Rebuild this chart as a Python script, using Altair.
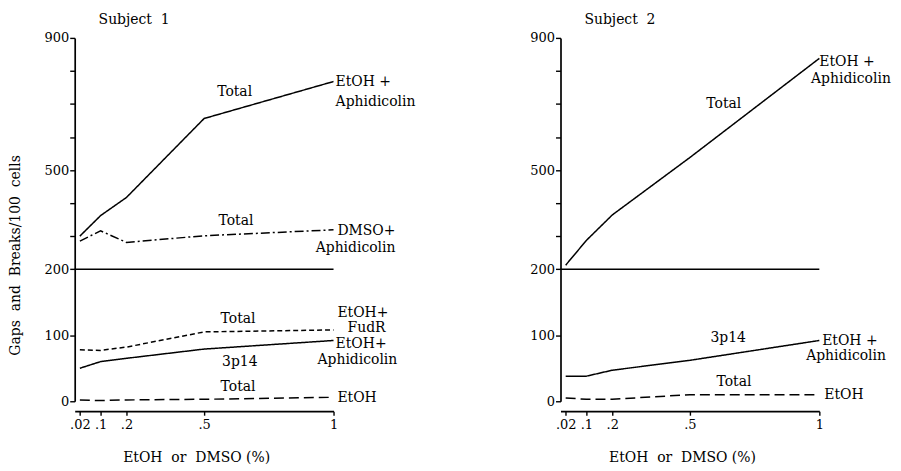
import altair as alt
import pandas as pd

# ---------------- data ----------------
x_levels = [0.02, 0.1, 0.2, 0.5, 1.0]
x_tick_labels = [".02", ".1", ".2", ".5", "1"]

# Subject 1
s1_etoh_aph_total = [300, 362, 417, 656, 768]
s1_dmso_aph_total = [285, 316, 281, 301, 319]
s1_etoh_fudr_total = [78, 77, 82, 105, 108]
s1_etoh_aph_3p14 = [50, 60, 65, 79, 92]
s1_etoh_total = [2, 1, 2, 3, 6]

# Subject 2
s2_etoh_aph_total = [212, 287, 364, 538, 838]
s2_etoh_aph_3p14 = [38, 38, 47, 62, 92]
s2_etoh_total = [5, 3, 3, 10, 10]

break_value = 200
y_tick_values = [0, 100, 200, 300, 400, 500, 600, 700, 800, 900]
y_label_values = [0, 100, 200, 500, 900]

series_names = ["EtOH+Aph Total", "DMSO+Aph Total", "EtOH+FudR Total", "EtOH+Aph 3p14", "EtOH Total"]
series_dash = [[1, 0], [9, 3, 2, 3], [5, 3], [1, 0], [10, 5]]

subject1 = {
    "EtOH+Aph Total": s1_etoh_aph_total,
    "DMSO+Aph Total": s1_dmso_aph_total,
    "EtOH+FudR Total": s1_etoh_fudr_total,
    "EtOH+Aph 3p14": s1_etoh_aph_3p14,
    "EtOH Total": s1_etoh_total,
}
subject2 = {
    "EtOH+Aph Total": s2_etoh_aph_total,
    "EtOH+Aph 3p14": s2_etoh_aph_3p14,
    "EtOH Total": s2_etoh_total,
}

# annotation texts (text, x, value, align)
ann1 = [
    ("Total", 0.618, 735, "center"),
    ("EtOH +", 1.008, 765, "left"),
    ("Aphidicolin", 1.008, 707, "left"),
    ("Total", 0.623, 345, "center"),
    ("DMSO+", 1.015, 316, "left"),
    ("Aphidicolin", 0.931, 265, "left"),
    ("Total", 0.631, 124, "center"),
    ("EtOH+", 1.015, 133, "left"),
    ("FudR", 1.054, 111, "left"),
    ("EtOH+", 1.008, 87, "left"),
    ("Aphidicolin", 0.938, 63, "left"),
    ("3p14", 0.638, 60, "center"),
    ("Total", 0.631, 21, "center"),
    ("EtOH", 1.015, 5, "left"),
]
ann2 = [
    ("Total", 0.631, 699, "center"),
    ("EtOH +", 1.0, 828, "left"),
    ("Aphidicolin", 0.968, 777, "left"),
    ("3p14", 0.648, 96, "center"),
    ("EtOH +", 1.011, 91, "left"),
    ("Aphidicolin", 0.949, 68, "left"),
    ("Total", 0.670, 29, "center"),
    ("EtOH", 1.019, 10, "left"),
]

# ---------------- helpers ----------------
FONT = "DejaVu Serif"
BREAK_EXPR = f"datum.v <= {break_value} ? datum.v : {break_value} + (datum.v - {break_value}) / 2"


def disp(v):
    return v if v <= break_value else break_value + (v - break_value) / 2


Y_TOP = disp(max(y_tick_values))
tick_disp = [disp(v) for v in y_tick_values]
label_disp = [disp(v) for v in y_label_values]
y_label_expr = (
    "indexof(" + str(label_disp) + ", datum.value) >= 0 ? "
    f"format(datum.value <= {break_value} ? datum.value : 2 * datum.value - {break_value}, 'd') : ''"
)

x_label_expr = ""
for val, lab in zip(x_levels, x_tick_labels):
    x_label_expr += f"round(datum.value * 100) == {round(val * 100)} ? '{lab}' : "
x_label_expr += "''"


def make_df(d):
    rows = []
    for name, vals in d.items():
        for xv, v in zip(x_levels, vals):
            rows.append({"series": name, "x": xv, "v": v})
    return pd.DataFrame(rows)


def panel(sub, ann, title, ytitle):
    df = make_df(sub)
    ann_df = pd.DataFrame(ann, columns=["text", "x", "v", "al"])
    rule_df = pd.DataFrame({"x": [0.0], "x1": [1.0], "v": [break_value]})

    xaxis = alt.Axis(
        values=x_levels, labelExpr=x_label_expr, offset=10, tickSize=4, labelPadding=3,
        labelFlush=False, labelOverlap=False, grid=False,
        title="EtOH\u00a0 or\u00a0 DMSO (%)", titleX=122, titleY=47, titleBaseline="middle",
    )
    yargs = dict(
        values=tick_disp, labelExpr=y_label_expr, tickSize=5, labelPadding=1,
        labelOverlap=False, labelFlush=False, grid=False,
    )
    if ytitle:
        yargs.update(title="Gaps\u00a0 and\u00a0 Breaks/100\u00a0 cells", titleX=-59, titleY=218,
                     titleAngle=270, titleBaseline="middle", titleAlign="center")
    else:
        yargs.update(title=None)
    yaxis = alt.Axis(**yargs)

    x = alt.X("x:Q", scale=alt.Scale(domain=[0, 1], nice=False, zero=False), axis=xaxis)
    y = alt.Y("d:Q", scale=alt.Scale(domain=[0, Y_TOP], nice=False, zero=False), axis=yaxis)

    lines = (
        alt.Chart(df)
        .transform_calculate(d=BREAK_EXPR)
        .mark_line(color="black", strokeWidth=1.5)
        .encode(
            x=x, y=y, detail="series:N", order="x:Q",
            strokeDash=alt.StrokeDash("series:N", scale=alt.Scale(domain=series_names, range=series_dash), legend=None),
        )
    )
    rule = (
        alt.Chart(rule_df)
        .transform_calculate(d=BREAK_EXPR)
        .mark_rule(color="black", strokeWidth=1.5)
        .encode(x=x, x2="x1:Q", y=y)
    )
    texts = []
    for al in ["left", "center"]:
        texts.append(
            alt.Chart(ann_df)
            .transform_filter(f"datum.al == '{al}'")
            .transform_calculate(d=BREAK_EXPR)
            .mark_text(align=al, baseline="middle", font=FONT, fontSize=14, color="black")
            .encode(x=x, y=y, text="text:N")
        )
    return alt.layer(rule, lines, *texts).properties(
        width=260, height=365,
        title=alt.TitleParams(title, anchor="start", frame="group", dx=24, offset=5, fontSize=14,
                              font=FONT, fontWeight="normal", color="black"),
    )


left = panel(subject1, ann1, "Subject\u00a0 1", True)
right = panel(subject2, ann2, "Subject\u00a0 2", False)

chart = (
    alt.hconcat(left, right, spacing=228, bounds="flush")
    .properties(padding={"left": 1, "top": 4, "right": 2, "bottom": 2}, background="white")
    .configure_view(stroke=None)
    .configure_axis(
        domainColor="black", domainWidth=1.7, tickColor="black", tickWidth=1.4,
        labelFont=FONT, labelFontSize=13, labelColor="black",
        titleFont=FONT, titleFontSize=14, titleFontWeight="normal", titleColor="black",
    )
)

chart.save("out.html", embed_options={"renderer": "svg", "actions": False})
